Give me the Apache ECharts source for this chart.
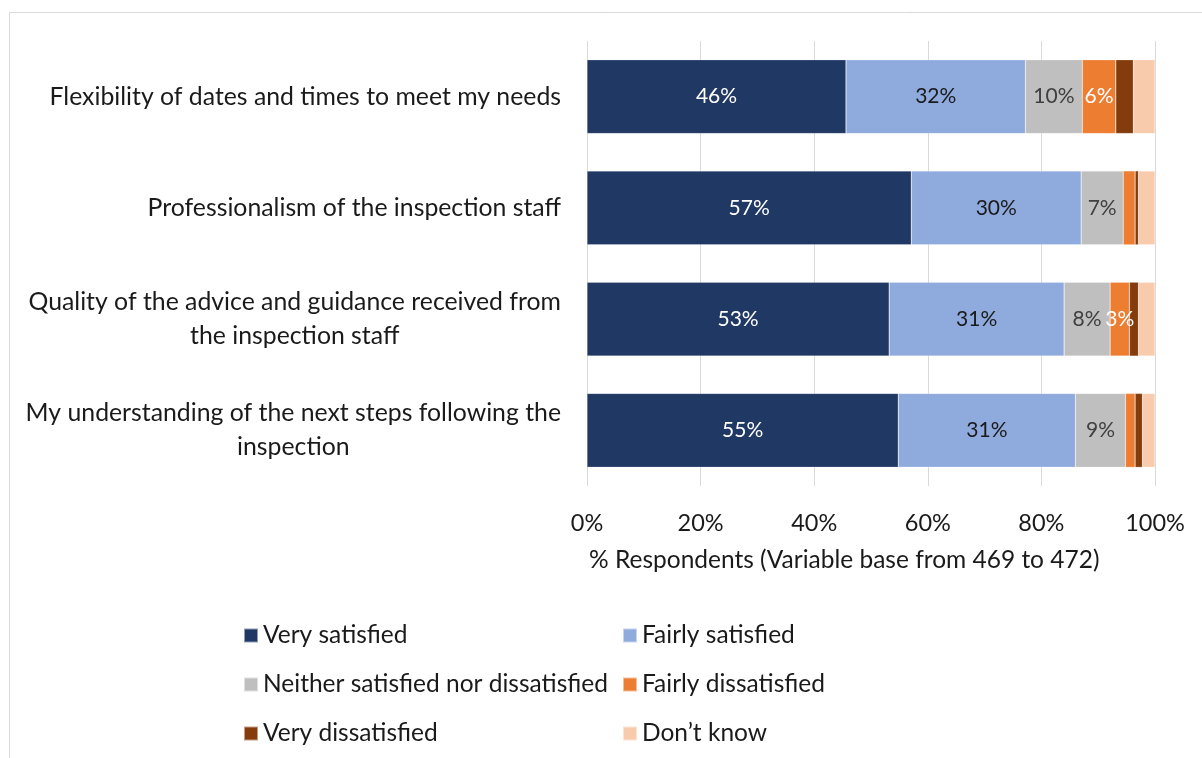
<!DOCTYPE html>
<html>
<head>
<meta charset="utf-8">
<script src="https://cdn.jsdelivr.net/npm/echarts@6/dist/echarts.min.js"></script>
<style>
  html, body { margin: 0; padding: 0; background: #fff; }
  #chart { width: 1202px; height: 758px; }
</style>
</head>
<body>
<div id="chart"></div>
<script>
// Survey statements (top to bottom)
const categories = [
  'Flexibility of dates and times to meet my needs',
  'Professionalism of the inspection staff',
  'Quality of the advice and guidance received from\nthe inspection staff',
  'My understanding of the next steps following the\ninspection'
];

// Share of respondents (%) per answer, one value per statement
const verySatisfied      = [45.6, 57.1, 53.2, 54.8];
const fairlySatisfied    = [31.6, 29.9, 30.8, 31.2];
const neitherNor         = [10.0, 7.4, 8.1, 8.8];
const fairlyDissatisfied = [5.9, 2.1, 3.4, 1.7];
const veryDissatisfied   = [3.1, 0.6, 1.6, 1.3];
const dontKnow           = [3.8, 2.9, 2.9, 2.2];

const xTicks = [0, 20, 40, 60, 80, 100];

const FONT = 'Lato, "Open Sans", "Noto Sans", sans-serif';

const answers = [
  { name: 'Very satisfied', data: verySatisfied, color: '#203864', label: '#ffffff', showMin: 3 },
  { name: 'Fairly satisfied', data: fairlySatisfied, color: '#8faadc', label: '#1a1a1a', showMin: 3 },
  { name: 'Neither satisfied nor dissatisfied', data: neitherNor, color: '#bfbfbf', label: '#404040', showMin: 3 },
  { name: 'Fairly dissatisfied', data: fairlyDissatisfied, color: '#ed7d31', label: '#ffffff', showMin: 3 },
  { name: 'Very dissatisfied', data: veryDissatisfied, color: '#843c0c', label: '#ffffff', showMin: Infinity },
  { name: 'Don\u2019t know', data: dontKnow, color: '#f8cbad', label: '#1a1a1a', showMin: Infinity }
];

const series = answers.map(a => ({
  name: a.name,
  type: 'bar',
  stack: 'total',
  barWidth: '66.5%',
  data: a.data,
  itemStyle: { color: a.color, borderColor: 'rgba(255,255,255,0.5)', borderWidth: 0.5 },
  label: {
    show: true,
    position: 'inside',
    color: a.label,
    fontFamily: FONT,
    fontSize: 21,
    formatter: p => (p.value >= a.showMin ? Math.round(p.value) + '%' : '')
  },
  emphasis: { disabled: true }
}));

const legendText = { fontFamily: FONT, fontSize: 24.5, color: '#1a1a1a' };

const legendBase = {
  orient: 'vertical',
  top: 623,
  padding: 0,
  itemWidth: 14,
  itemHeight: 14,
  itemGap: 24,
  icon: 'rect',
  selectedMode: false,
  textStyle: legendText
};

const option = {
  animation: false,
  backgroundColor: '#ffffff',
  graphic: [{
    type: 'rect',
    silent: true,
    shape: { x: 9.5, y: 12.5, width: 1210, height: 760 },
    style: { fill: 'none', stroke: '#d9d9d9', lineWidth: 1 }
  }],
  title: {
    text: '% Respondents (Variable base from 469 to 472)',
    left: 589,
    top: 548,
    padding: 0,
    textStyle: { fontFamily: FONT, fontSize: 24.5, fontWeight: 'normal', color: '#1a1a1a' }
  },
  legend: [
    Object.assign({}, legendBase, {
      data: [answers[0].name, answers[2].name, answers[4].name],
      left: 243
    }),
    Object.assign({}, legendBase, {
      data: [answers[1].name, answers[3].name, answers[5].name],
      left: 622
    })
  ],
  grid: { left: 587, right: 47, top: 41, height: 445, containLabel: false },
  xAxis: {
    type: 'value',
    min: xTicks[0],
    max: xTicks[xTicks.length - 1],
    interval: xTicks[1] - xTicks[0],
    axisLine: { show: false },
    axisTick: { show: false },
    splitLine: { show: true, lineStyle: { color: '#d9d9d9', width: 1 } },
    axisLabel: {
      formatter: '{value}%',
      margin: 25,
      fontFamily: FONT,
      fontSize: 23.5,
      color: '#1a1a1a'
    }
  },
  yAxis: {
    type: 'category',
    data: categories,
    inverse: true,
    axisLine: { show: false },
    axisTick: { show: false },
    axisLabel: {
      align: 'right',
      margin: 26,
      formatter: v => v.split('\n').map(s => '{c|' + s + '}').join('\n'),
      rich: {
        c: { align: 'center', fontFamily: FONT, fontSize: 24.8, lineHeight: 34, color: '#1a1a1a' }
      }
    }
  },
  series: series
};

const chart = echarts.init(document.getElementById('chart'), null, { renderer: 'canvas' });
chart.setOption(option);
</script>
</body>
</html>
